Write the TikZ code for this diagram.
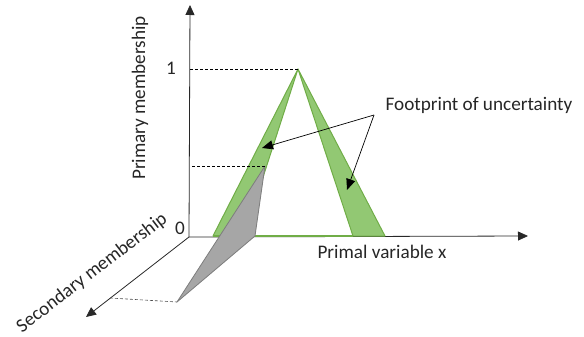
\documentclass[tikz,border=0pt]{standalone}
\usepackage{fontspec}
\setmainfont{Carlito}
\usetikzlibrary{arrows.meta}
\definecolor{fougreen}{RGB}{112,173,71}
\definecolor{fouFill}{RGB}{146,200,115}
\definecolor{grayfill}{RGB}{166,166,166}
\definecolor{grayedge}{RGB}{125,125,125}
\definecolor{axiscol}{RGB}{40,40,40}
\tikzset{
  axis/.style={draw=axiscol, line width=0.8pt, -{Triangle[length=10pt,width=9pt]}},
  guide/.style={draw=black, line width=0.6pt, dash pattern=on 3pt off 2pt},
  band/.style={fill=fouFill, draw=fougreen, line width=1pt, line join=round},
  lbl/.style={font=\fontsize{19.2}{21}\selectfont, text=black!85, inner sep=0pt},
  pointer/.style={draw=black, line width=0.7pt, -{Triangle[length=11pt,width=9pt]}}
}
\begin{document}
\begin{tikzpicture}[x=1pt,y=-1pt]
\useasboundingbox (0,0) rectangle (584,337);
% coordinates
\coordinate (O) at (189,237);
\coordinate (ytip) at (190,5);
\coordinate (xtip) at (528,236);
\coordinate (ztip) at (86,317);
\coordinate (peak) at (298,69);
\coordinate (lo) at (213,236);
\coordinate (li) at (244,236);
\coordinate (ri) at (353,236);
\coordinate (ro) at (385,236);
\coordinate (gtop) at (265,166);
\coordinate (gbase) at (255,236);
\coordinate (gfar) at (177,302);
\coordinate (zfoot) at (110,298);
\coordinate (one) at (190,69);
\coordinate (mid) at (192,166);
\coordinate (src) at (374,115);
\coordinate (t1) at (262,148);
\coordinate (t2) at (347,190);
% axes
\draw[axis] (O) -- (ytip);
\draw[axis] (O) -- (xtip);
\draw[axis] (O) -- (ztip);
% green bands
\draw[band] (lo) -- (peak) -- (li) -- cycle;
\draw[band] (ri) -- (peak) -- (ro) -- cycle;
\draw[draw=fougreen, line width=1.2pt] (lo) -- (ri);
% gray secondary slice
\draw[fill=grayfill, draw=grayedge, line width=0.8pt, line join=round] (gtop) -- (gbase) -- (gfar) -- cycle;
% guides
\draw[guide] (one) -- (peak);
\draw[guide] (mid) -- (gtop);
\draw[guide, draw=black!70] (zfoot) -- (gfar);
% labels
\node[lbl] (l1) at (171,68) {1};
\node[lbl] (l0) at (180,228) {0};
\node[lbl, rotate=90] (ly) at (140,98) {Primary membership};
\node[lbl] (lx) at (382,252) {Primal variable x};
\node[lbl, rotate=37.5] (lz) at (92,273) {Secondary membership};
\node[lbl] (fou) at (479,105) {Footprint of uncertainty};
% pointers
\draw[pointer] (src) -- (t1);
\draw[pointer] (src) -- (t2);
\end{tikzpicture}
\end{document}
